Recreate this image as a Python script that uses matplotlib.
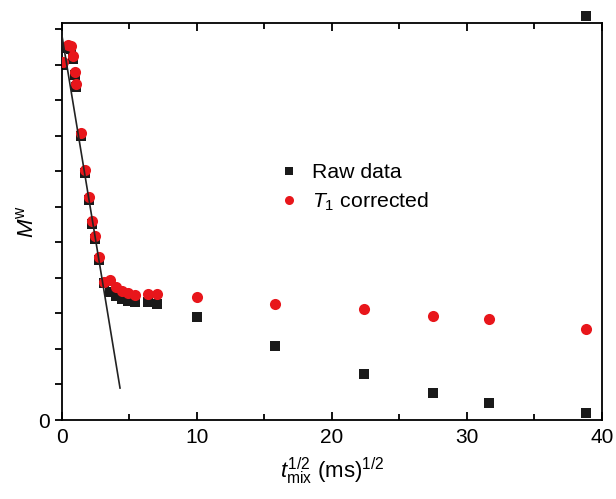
import numpy as np
import matplotlib
matplotlib.use('Agg')
import matplotlib.pyplot as plt
from matplotlib.ticker import MultipleLocator, FixedLocator, FixedFormatter

plt.rcParams['font.family'] = ['Liberation Sans', 'DejaVu Sans']
plt.rcParams['mathtext.fontset'] = 'custom'
plt.rcParams['mathtext.rm'] = 'Liberation Sans'
plt.rcParams['mathtext.it'] = 'Liberation Sans:italic'

# sqrt(t_mix) in ms^1/2
t_sqrt = [0.07, 0.44, 0.67, 0.81, 0.96, 1.04, 1.41, 1.70, 2.00, 2.22, 2.44, 2.74,
          3.11, 3.56, 4.00, 4.44, 4.89, 5.41, 6.37, 7.04,
          10.0, 15.8, 22.4, 27.5, 31.6, 38.8]
raw = [1.000, 1.048, 1.045, 1.017, 0.972, 0.938, 0.800, 0.696, 0.620, 0.552, 0.510, 0.451,
       0.386, 0.361, 0.349, 0.341, 0.335, 0.332, 0.332, 0.327,
       0.290, 0.208, 0.130, 0.076, 0.048, 0.020]
corrected = [1.008, 1.056, 1.054, 1.025, 0.980, 0.946, 0.808, 0.704, 0.628, 0.561, 0.518, 0.459,
             0.389, 0.394, 0.375, 0.363, 0.358, 0.352, 0.355, 0.355,
             0.346, 0.327, 0.313, 0.293, 0.284, 0.256]

# stray square above the frame, top right
stray_x = [38.8]
stray_y = [1.138]

# initial-slope fit line
fit_x = [0.0, 4.3]
fit_y = [1.082, 0.090]

fig = plt.figure(figsize=(6.16, 4.99), dpi=100)
ax = fig.add_axes([0.1006, 0.1583, 0.8766, 0.7957])

ax.plot(fit_x, fit_y, color='#222222', lw=1.2, zorder=4)
ax.plot(t_sqrt, raw, 's', color='#1a1a1a', ms=7, mew=0, zorder=2)
ax.plot(t_sqrt, corrected, 'o', color='#e8161b', ms=8, mew=0, zorder=3)
ax.plot(stray_x, stray_y, 's', color='#1a1a1a', ms=7, mew=0, clip_on=False)

# legend proxies
ax.plot([], [], 's', color='#1a1a1a', ms=6, mew=0, label='Raw data')
ax.plot([], [], 'o', color='#e8161b', ms=6.5, mew=0, label='$T_1$ corrected')
handles, labels = ax.get_legend_handles_labels()
ax.legend(handles[-2:], labels[-2:], loc='upper left', bbox_to_anchor=(0.37, 0.695),
          frameon=False, fontsize=15.3, handlelength=0.8, handletextpad=0.65,
          labelspacing=0.4)

ax.set_xlim(0, 40)
ax.set_ylim(0, 1.118)

ax.xaxis.set_major_locator(MultipleLocator(10))
ax.xaxis.set_minor_locator(MultipleLocator(5))
ax.yaxis.set_major_locator(FixedLocator(np.arange(0, 1.15, 0.1)))
ax.yaxis.set_major_formatter(FixedFormatter(['0'] + [''] * 20))

ax.tick_params(axis='x', which='both', direction='in', top=True, bottom=True,
               labelsize=15, width=1.3, pad=6)
ax.tick_params(axis='x', which='major', length=6)
ax.tick_params(axis='x', which='minor', length=4)
ax.tick_params(axis='y', direction='out', length=5, width=1.3, labelsize=15, right=False)

for s in ax.spines.values():
    s.set_linewidth(1.3)

ax.set_xlabel(r'$t_{\rm mix}^{1/2}$ (ms)$^{1/2}$', fontsize=16, labelpad=6)
ax.set_ylabel(r'$M^{\rm w}$', fontsize=16, labelpad=0)

fig.savefig('out.png', dpi=100)
